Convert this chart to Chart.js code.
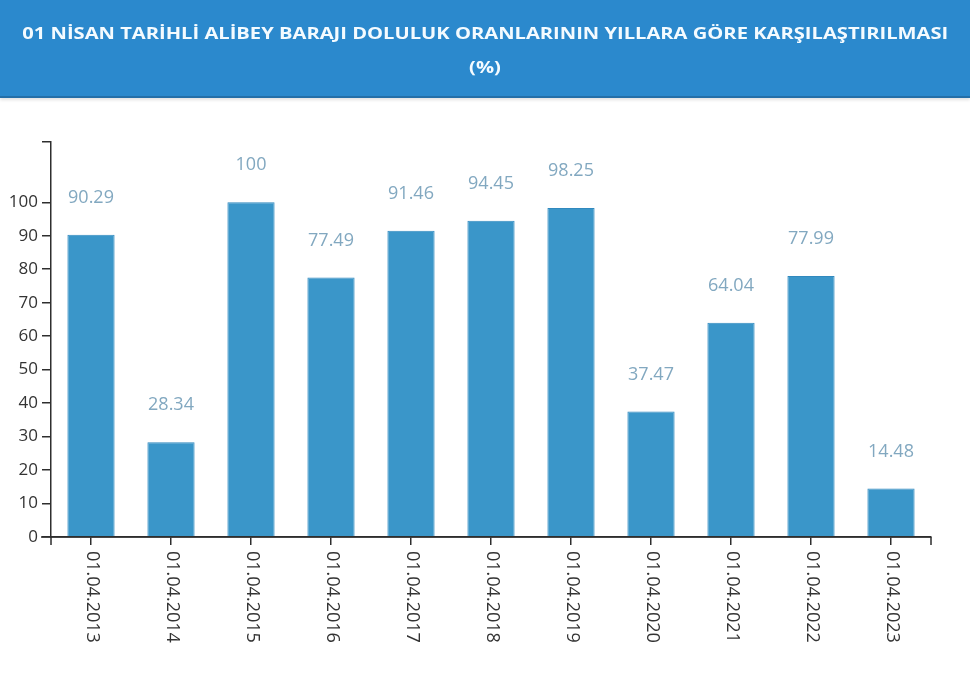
<!DOCTYPE html>
<html>
<head>
<meta charset="utf-8">
<script src="https://cdn.jsdelivr.net/npm/chart.js@4/dist/chart.umd.min.js"></script>
<style>
  html, body { margin: 0; padding: 0; background: #ffffff; width: 970px; height: 675px; overflow: hidden; }
  #header {
    position: absolute; left: 0; top: 0; width: 970px; height: 96px;
    background: #2b89cd; border-bottom: 2px solid #246fa8;
    box-shadow: 0 2px 3px rgba(0,0,0,0.12);
    color: #f4fbff; font-family: "Open Sans", sans-serif; font-weight: 700;
    font-size: 16.5px; text-align: center; line-height: 34px;
    z-index: 2;
  }
  #header .l1 { padding-top: 16px; }
  #header span { display: inline-block; transform-origin: center center; white-space: nowrap; }
  #wrap { position: absolute; left: 0; top: 0; width: 970px; height: 675px; }
</style>
</head>
<body>
<div id="header"><div class="l1"><span id="t1">01 NİSAN TARİHLİ ALİBEY BARAJI DOLULUK ORANLARININ YILLARA GÖRE KARŞILAŞTIRILMASI</span></div><div><span id="t2">(%)</span></div></div>
<div id="wrap"><canvas id="c" width="970" height="675"></canvas></div>
<script>
const categories = ['01.04.2013','01.04.2014','01.04.2015','01.04.2016','01.04.2017','01.04.2018','01.04.2019','01.04.2020','01.04.2021','01.04.2022','01.04.2023'];
const fillRates = [90.29, 28.34, 100, 77.49, 91.46, 94.45, 98.25, 37.47, 64.04, 77.99, 14.48];
const yTickValues = [0, 10, 20, 30, 40, 50, 60, 70, 80, 90, 100];
const yAxisMax = 118;

// stretch title text horizontally to match the reference width
(function () {
  const t1 = document.getElementById('t1');
  const w = t1.getBoundingClientRect().width;
  const s = 926 / w;
  t1.style.transform = 'scaleX(' + s + ')';
  document.getElementById('t2').style.transform = 'scaleX(' + s + ')';
})();

const axisColor = '#2e2e2e';

const extras = {
  id: 'extras',
  afterDraw(chart) {
    const ctx = chart.ctx;
    const x = chart.scales.x, y = chart.scales.y;
    const meta = chart.getDatasetMeta(0);
    ctx.save();
    // value labels
    ctx.font = '18px "Open Sans", sans-serif';
    ctx.fillStyle = '#82a8c0';
    ctx.textAlign = 'center';
    ctx.textBaseline = 'middle';
    meta.data.forEach((bar, i) => {
      ctx.fillText(String(fillRates[i]), bar.x, bar.y - 37);
    });
    // rotated category labels
    ctx.font = '18px "Open Sans", sans-serif';
    ctx.fillStyle = '#333333';
    ctx.textAlign = 'left';
    ctx.textBaseline = 'middle';
    categories.forEach((lab, i) => {
      const px = x.getPixelForTick(i);
      ctx.save();
      ctx.translate(px + 1, y.bottom + 14);
      ctx.rotate(Math.PI / 2);
      ctx.fillText(lab, 0, 0);
      ctx.restore();
    });
    // outer ticks and axis extension
    ctx.strokeStyle = axisColor;
    ctx.lineWidth = 1.5;
    ctx.beginPath();
    ctx.moveTo(x.right, y.bottom); ctx.lineTo(x.right, y.bottom + 8);
    ctx.moveTo(x.left, y.bottom); ctx.lineTo(x.left, y.bottom + 8);
    ctx.moveTo(x.left - 10, y.bottom); ctx.lineTo(x.right, y.bottom);
    ctx.stroke();
    ctx.restore();
  }
};

new Chart(document.getElementById('c'), {
  type: 'bar',
  data: {
    labels: categories,
    datasets: [{
      data: fillRates,
      backgroundColor: '#3a96c9',
      borderColor: '#3189be',
      borderWidth: 1,
      barPercentage: 0.59,
      categoryPercentage: 1.0
    }]
  },
  options: {
    responsive: false,
    animation: false,
    layout: { padding: { top: 142, right: 39, left: 0, bottom: 0 } },
    plugins: { legend: { display: false }, tooltip: { enabled: false }, title: { display: false } },
    scales: {
      x: {
        offset: true,
        afterFit(s) { s.height = 138; },
        grid: { display: true, drawOnChartArea: false, drawTicks: true, tickLength: 8, offset: false, color: axisColor, lineWidth: 1.5 },
        border: { display: true, color: axisColor, width: 1.5 },
        ticks: { display: false }
      },
      y: {
        min: 0,
        max: yAxisMax,
        afterFit(s) { s.width = 51; },
        afterBuildTicks(s) { s.ticks = yTickValues.concat([yAxisMax]).map(v => ({ value: v })); },
        grid: { display: true, drawOnChartArea: false, drawTicks: true, tickLength: 9, color: axisColor, lineWidth: 1.5 },
        border: { display: true, color: axisColor, width: 1.5 },
        ticks: {
          padding: 4,
          color: '#333333',
          font: { family: '"Open Sans", sans-serif', size: 17 },
          callback: (v) => (v === yAxisMax ? '' : String(v))
        }
      }
    }
  },
  plugins: [extras]
});
</script>
</body>
</html>
